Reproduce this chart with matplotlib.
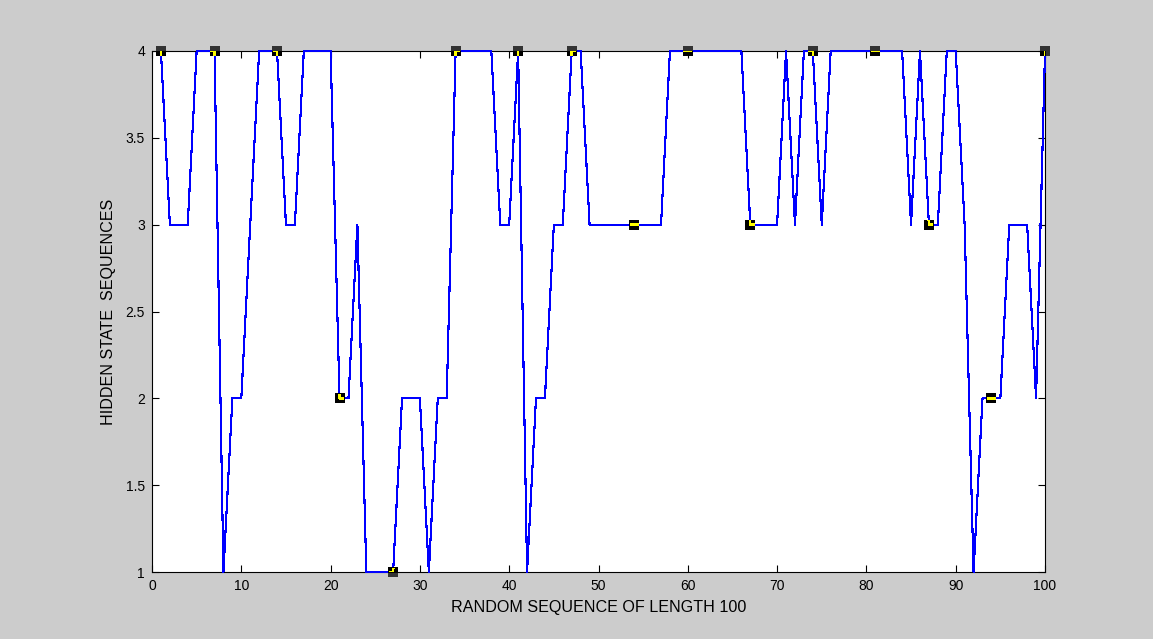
import numpy as np
import matplotlib
matplotlib.use('Agg')
import matplotlib.pyplot as plt
from matplotlib.path import Path
from matplotlib.transforms import IdentityTransform

plt.rcParams['font.family'] = ['Liberation Sans', 'DejaVu Sans']

# hidden state at each position of the random sequence (1..100)
steps = list(range(1, 101))
states = [4, 3, 3, 3, 4, 4, 4, 1, 2, 2,
          3, 4, 4, 4, 3, 3, 4, 4, 4, 4,
          2, 2, 3, 1, 1, 1, 1, 2, 2, 2,
          1, 2, 2, 4, 4, 4, 4, 4, 3, 3,
          4, 1, 2, 2, 3, 3, 4, 4, 3, 3,
          3, 3, 3, 3, 3, 3, 3, 4, 4, 4,
          4, 4, 4, 4, 4, 4, 3, 3, 3, 3,
          4, 3, 4, 4, 3, 4, 4, 4, 4, 4,
          4, 4, 4, 4, 3, 4, 3, 3, 4, 4,
          3, 1, 2, 2, 2, 3, 3, 3, 2, 4]

# positions highlighted with square markers
marked = [1, 7, 14, 21, 27, 34, 41, 47, 54, 60, 67, 74, 81, 87, 94, 100]
marked_states = [states[i - 1] for i in marked]

xticks = list(range(0, 101, 10))
yticks = [1, 1.5, 2, 2.5, 3, 3.5, 4]
ytick_labels = ['1', '1.5', '2', '2.5', '3', '3.5', '4']

W, H = 1153, 639
fig = plt.figure(figsize=(W / 100, H / 100), dpi=100, facecolor='#cccccc')
ax = fig.add_axes([152 / W, (H - 572) / H, 893 / W, 521 / H])
ax.set_facecolor('white')

# line sits on top of the axes frame, like the original
ax.plot(steps, states, color='#0000ff', lw=0.8, antialiased=False, zorder=3,
        clip_on=False)

ax.set_xlim(0, 100)
ax.set_ylim(1, 4)
ax.set_xticks(xticks)
ax.set_yticks(yticks)
ax.set_yticklabels(ytick_labels)
ax.tick_params(direction='in', top=True, right=True, length=5, width=0.8,
               labelsize=10, pad=5)
for s in ax.spines.values():
    s.set_linewidth(0.8)

# markers: part outside the axes shows dark grey, inside black
ax.plot(marked, marked_states, 's', color='#333333', ms=6.5, mew=0,
        clip_on=False, zorder=3.2)
ax.plot(marked, marked_states, 's', color='black', ms=6.5, mew=0, zorder=3.5)

# yellow copy of the line, only visible inside the marker squares
pix = ax.transData.transform(np.column_stack([marked, marked_states]))
h = 4.5
verts, codes = [], []
for px, py in pix:
    verts += [(px - h, py - h), (px + h, py - h), (px + h, py + h),
              (px - h, py + h), (px - h, py - h)]
    codes += [Path.MOVETO, Path.LINETO, Path.LINETO, Path.LINETO, Path.CLOSEPOLY]
yellow, = ax.plot(steps, states, color='yellow', lw=1, antialiased=False,
                  zorder=4)
yellow.set_clip_path(Path(verts, codes), IdentityTransform())

ax.set_xlabel('RANDOM SEQUENCE OF LENGTH 100', fontsize=11.6, labelpad=5)
ax.set_ylabel('HIDDEN STATE  SEQUENCES', fontsize=11.6, labelpad=7)

fig.savefig('out.png', dpi=100, facecolor=fig.get_facecolor())
